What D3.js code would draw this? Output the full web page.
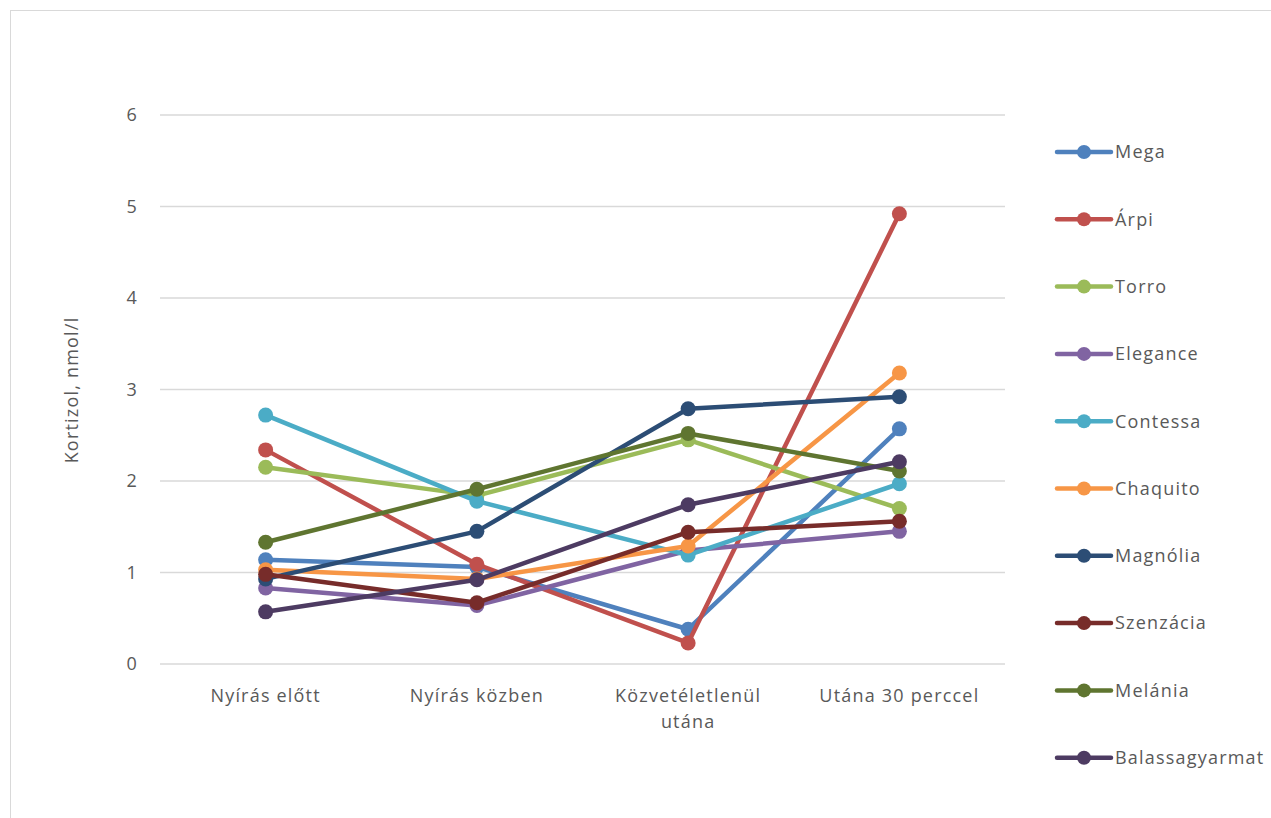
<!DOCTYPE html>
<html>
<head>
<meta charset="utf-8">
<script src="https://cdn.jsdelivr.net/npm/d3@7"></script>
<style>
  body { margin: 0; background: #fff; }
  svg text { font-family: "Open Sans", "Noto Sans", sans-serif; fill: #595959; letter-spacing: 1.2px; }
</style>
</head>
<body>
<svg id="chart" width="1271" height="818"></svg>
<script>
// cortisol per animal at four sampling times
var categories = ["Nyírás előtt", "Nyírás közben", "Közvetéletlenül utána", "Utána 30 perccel"];
var seriesNames = ["Mega", "Árpi", "Torro", "Elegance", "Contessa", "Chaquito", "Magnólia", "Szenzácia", "Melánia", "Balassagyarmat"];
var mega = [1.14, 1.06, 0.38, 2.57];
var arpi = [2.34, 1.09, 0.23, 4.92];
var torro = [2.15, 1.84, 2.45, 1.70];
var elegance = [0.83, 0.64, 1.24, 1.45];
var contessa = [2.72, 1.78, 1.19, 1.97];
var chaquito = [1.03, 0.93, 1.29, 3.18];
var magnolia = [0.93, 1.45, 2.79, 2.92];
var szenzacia = [0.98, 0.67, 1.44, 1.56];
var melania = [1.33, 1.91, 2.52, 2.11];
var balassa = [0.57, 0.92, 1.74, 2.21];
var yTicks = [0, 1, 2, 3, 4, 5, 6];
var colors = ["#4F81BD", "#C0504D", "#9BBB59", "#8064A2", "#4BACC6", "#F79646", "#2C4D75", "#772C2A", "#5F7530", "#4D3B62"];

var values = [mega, arpi, torro, elegance, contessa, chaquito, magnolia, szenzacia, melania, balassa];
var series = seriesNames.map(function (n, i) { return { name: n, values: values[i], color: colors[i] }; });

var svg = d3.select("#chart");

// outer frame like the original chart area
svg.append("rect")
  .attr("x", 10.5).attr("y", 10.5)
  .attr("width", 1300).attr("height", 900)
  .attr("fill", "none").attr("stroke", "#d9d9d9");

var x = d3.scaleBand().domain(categories).range([160, 1005]);
var y = d3.scaleLinear().domain([0, 6]).range([664, 115]);

// gridlines
svg.append("g").selectAll("line")
  .data(yTicks).enter().append("line")
    .attr("x1", 160).attr("x2", 1005)
    .attr("y1", function (d) { return y(d); })
    .attr("y2", function (d) { return y(d); })
    .attr("stroke", "#d9d9d9").attr("stroke-width", 1.3);

var yAxis = svg.append("g")
  .attr("transform", "translate(160,0)")
  .call(d3.axisLeft(y).tickValues(yTicks).tickFormat(d3.format("d")).tickSize(0).tickPadding(22));
yAxis.select(".domain").remove();
yAxis.selectAll("text").style("font-size", "18px").attr("fill", "#595959");

var xAxis = svg.append("g")
  .attr("transform", "translate(0,664)")
  .call(d3.axisBottom(x).tickSize(0).tickPadding(0));
xAxis.select(".domain").remove();
xAxis.selectAll("text").remove();
xAxis.selectAll(".tick").each(function (d) {
  var t = d3.select(this).append("text")
    .attr("text-anchor", "middle")
    .style("font-size", "18px");
  var lines = d === "Közvetéletlenül utána" ? ["Közvetéletlenül", "utána"] : [d];
  lines.forEach(function (l, i) {
    t.append("tspan").attr("x", 0).attr("y", 38 + i * 26).text(l);
  });
});

svg.append("text")
  .attr("transform", "translate(78,390) rotate(-90)")
  .attr("text-anchor", "middle")
  .style("font-size", "18px")
  .text("Kortizol, nmol/l");

var cx = function (i) { return x(categories[i]) + x.bandwidth() / 2; };
var line = d3.line()
  .x(function (d, i) { return cx(i); })
  .y(function (d) { return y(d); });

var g = svg.selectAll(".series")
  .data(series).enter().append("g")
    .attr("class", "series");

g.append("path")
  .attr("d", function (d) { return line(d.values); })
  .attr("fill", "none")
  .attr("stroke", function (d) { return d.color; })
  .attr("stroke-width", 4.5)
  .attr("stroke-linejoin", "round");

g.selectAll("circle")
  .data(function (d) { return d.values.map(function (v) { return { v: v, c: d.color }; }); })
  .enter().append("circle")
    .attr("cx", function (d, i) { return cx(i); })
    .attr("cy", function (d) { return y(d.v); })
    .attr("r", 7.5)
    .attr("fill", function (d) { return d.c; });

// legend
var lg = svg.selectAll(".legend")
  .data(series).enter().append("g")
    .attr("class", "legend")
    .attr("transform", function (d, i) { return "translate(1057," + (152 + i * 67.3) + ")"; });

lg.append("line")
  .attr("x1", 0).attr("x2", 54)
  .attr("stroke", function (d) { return d.color; })
  .attr("stroke-width", 4.5)
  .attr("stroke-linecap", "round");

lg.append("circle")
  .attr("cx", 27).attr("r", 7)
  .attr("fill", function (d) { return d.color; });

lg.append("text")
  .attr("x", 58).attr("dy", "0.35em")
  .style("font-size", "18px")
  .text(function (d) { return d.name; });
</script>
</body>
</html>
